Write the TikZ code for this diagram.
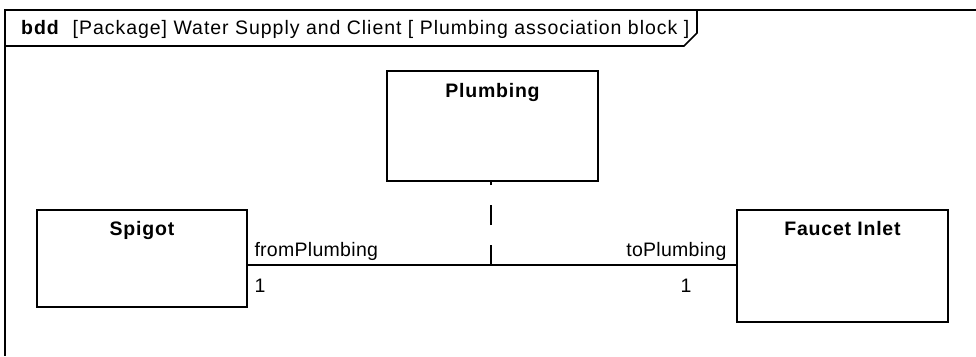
\documentclass[tikz,border=0pt]{standalone}
\usepackage{fontspec}
\setmainfont{Liberation Sans}[LetterSpace=1.5]
\newfontfamily\blockfont{Liberation Sans}[LetterSpace=4]
\newfontfamily\headerfont{Liberation Sans}[LetterSpace=5]
\usetikzlibrary{positioning}

\tikzset{
    block/.style={draw, line width=1.6pt, minimum width=211pt, inner sep=0pt},
    blocktitle/.style={anchor=north, font=\blockfont\fontsize{19.5}{21}\selectfont\bfseries, inner sep=0pt},
    rolelabel/.style={font=\fontsize{19.5}{21}\selectfont, inner sep=0pt},
    assoc/.style={line width=1.4pt},
    dep/.style={line width=1.4pt, dash pattern=on 20pt off 20pt}
}

\begin{document}
\begin{tikzpicture}[x=1pt, y=-1pt]
    \useasboundingbox (0,0) rectangle (976,356);

    % Draw the diagram frame and its header tab
    \draw[line width=1.8pt] (976,10) -- (5,10) -- (5,356);
    \draw[line width=1.6pt] (697,10) -- (697,33) -- (684,46) -- (5,46);
    \node[anchor=base west, inner sep=0pt, font=\headerfont\fontsize{19.5}{21}\selectfont] (header) at (21,34)
        {\textbf{bdd}\ \ [Package] Water Supply and Client [ Plumbing association block ]};

    % Draw the blocks
    \node[block, minimum height=110pt] (plumbing) at (492.5,126) {};
    \node[block, minimum width=210pt, minimum height=97pt] (spigot) at (142,258.5) {};
    \node[block, minimum height=112pt] (faucet) at (842.5,266) {};

    % Block names
    \node[blocktitle] (plumbing title) at ([yshift=-13pt]plumbing.north) {Plumbing};
    \node[blocktitle] (spigot title) at ([yshift=-12pt]spigot.north) {Spigot};
    \node[blocktitle] (faucet title) at ([yshift=-12pt]faucet.north) {Faucet Inlet};

    % Association with its roles and multiplicities
    \coordinate (mid) at (491,265);
    \draw[assoc] (spigot.east |- mid) -- (faucet.west |- mid)
        node[rolelabel, pos=0, anchor=base west, xshift=6pt, yshift=9pt] (from role) {fromPlumbing}
        node[rolelabel, pos=0, anchor=base west, xshift=6pt, yshift=-27pt] (from mult) {1}
        node[rolelabel, pos=1, anchor=base east, xshift=-9pt, yshift=9pt] (to role) {toPlumbing}
        node[rolelabel, pos=1, anchor=base east, xshift=-44pt, yshift=-27pt] (to mult) {1};

    % Association block link
    \draw[dep] (mid) -- (mid |- plumbing.south);

\end{tikzpicture}
\end{document}
